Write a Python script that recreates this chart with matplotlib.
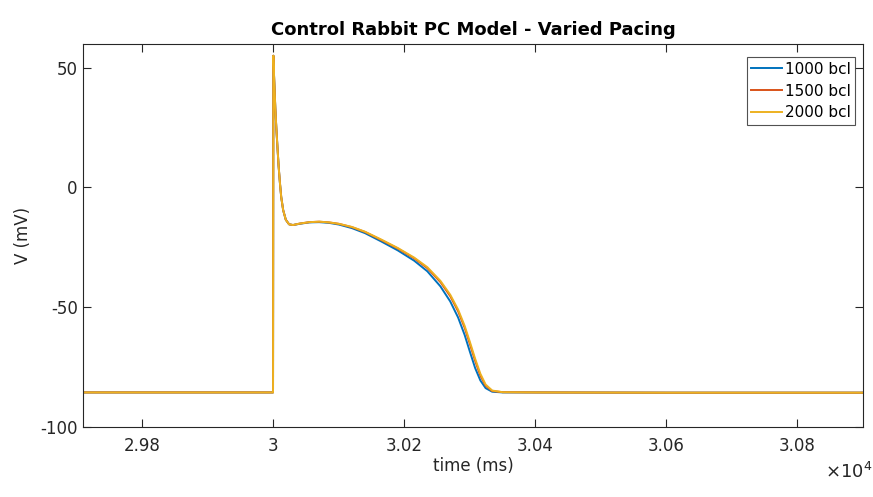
import numpy as np
import matplotlib.pyplot as plt

# tiempo (ms) y voltaje (mV)
t = [29710, 29999.5, 30000, 30001, 30002, 30003, 30004.5, 30006, 30008, 30010,
     30012, 30015, 30019, 30024, 30030, 30040, 30055, 30070, 30085, 30100,
     30120, 30140, 30165, 30190, 30215, 30235, 30255, 30270, 30282, 30292,
     30300, 30308, 30316, 30324, 30334, 30350, 30400, 30600, 30900]

v_2000 = [-85.6, -85.6, 55.0, 47.0, 40.0, 33.0, 25.0, 18.0, 9.0, 2.0,
          -4.0, -9.5, -13.5, -15.4, -15.7, -15.1, -14.5, -14.3, -14.6, -15.2,
          -16.5, -18.5, -21.8, -25.3, -29.3, -33.3, -39.0, -44.8, -51.0, -57.8,
          -64.5, -71.5, -77.8, -82.3, -84.8, -85.5, -85.6, -85.7, -85.7]

v_1500 = [-85.6, -85.6, 55.0, 47.0, 40.0, 33.0, 25.0, 18.0, 9.0, 2.0,
          -4.0, -9.5, -13.5, -15.4, -15.7, -15.1, -14.5, -14.3, -14.6, -15.2,
          -16.6, -18.6, -22.0, -25.5, -29.6, -33.7, -39.5, -45.4, -51.7, -58.6,
          -65.4, -72.4, -78.6, -82.8, -85.0, -85.5, -85.6, -85.7, -85.7]

v_1000 = [-85.6, -85.6, 55.0, 47.0, 40.0, 33.0, 25.0, 18.0, 9.0, 2.0,
          -4.0, -9.5, -13.5, -15.4, -15.7, -15.2, -14.6, -14.5, -14.8, -15.5,
          -17.0, -19.1, -22.6, -26.3, -30.6, -35.0, -41.3, -47.6, -54.3, -61.6,
          -68.6, -75.4, -80.6, -83.8, -85.3, -85.6, -85.6, -85.7, -85.7]

series = [("1000 bcl", v_1000, "#0072BD"),
          ("1500 bcl", v_1500, "#D95319"),
          ("2000 bcl", v_2000, "#EDB120")]

xticks = [29800, 30000, 30200, 30400, 30600, 30800]
xticklabels = ["2.98", "3", "3.02", "3.04", "3.06", "3.08"]
yticks = [-100, -50, 0, 50]

plt.rcParams['font.family'] = ['DejaVu Sans']
plt.rcParams['axes.unicode_minus'] = False
gris = "#262626"

fig = plt.figure(figsize=(8.73, 4.97), dpi=100)
ax = fig.add_axes([0.0955, 0.141, 0.893, 0.771])

for nombre, v, col in series:
    ax.plot(t, v, color=col, lw=1.4, label=nombre)

ax.set_xlim(29710, 30900)
ax.set_ylim(-100, 60)
ax.set_xticks(xticks)
ax.set_xticklabels(xticklabels)
ax.set_yticks(yticks)
ax.tick_params(direction="in", top=True, right=True, length=5.5, width=0.8,
               labelsize=12, colors=gris, labelcolor=gris)
ax.tick_params(axis="x", pad=7)
ax.tick_params(axis="y", pad=4)
for s in ax.spines.values():
    s.set_color(gris)
    s.set_linewidth(0.8)

ax.set_xlabel("time (ms)", fontsize=12, color=gris, labelpad=2)
ax.set_ylabel("V (mV)", fontsize=12, color=gris, labelpad=6)
ax.set_title("Control Rabbit PC Model - Varied Pacing", fontsize=13,
             fontweight="bold", color="black", pad=6)
ax.text(1.012, -0.09, r"$\times10^{4}$", transform=ax.transAxes, ha="right",
        va="top", fontsize=13, color=gris)

leg = ax.legend(loc="upper right", bbox_to_anchor=(1.0, 0.985), fontsize=11,
                frameon=True, fancybox=False, handlelength=2.0,
                handletextpad=0.2, borderpad=0.3, labelspacing=0.45,
                borderaxespad=0.5)
leg.get_frame().set_edgecolor(gris)
leg.get_frame().set_linewidth(0.8)

fig.savefig("out.png", dpi=100)
